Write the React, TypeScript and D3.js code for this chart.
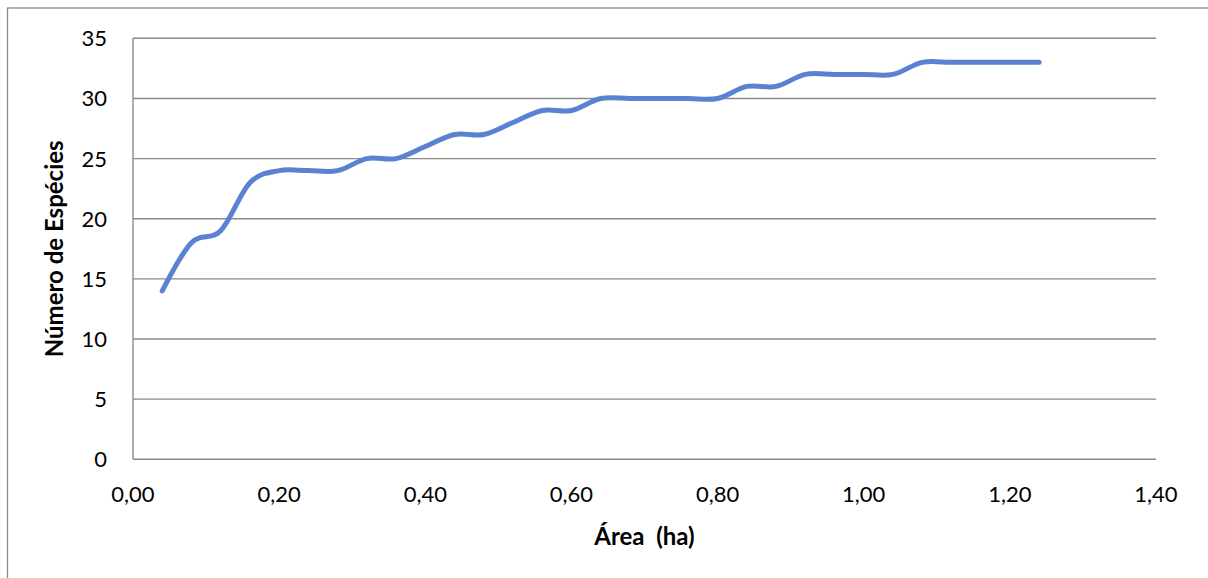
import React from "react";
import * as d3 from "d3";

const areaHa: number[] = [
  0.04, 0.08, 0.12, 0.16, 0.2, 0.24, 0.28, 0.32, 0.36, 0.4, 0.44, 0.48, 0.52, 0.56, 0.6, 0.64,
  0.68, 0.72, 0.76, 0.8, 0.84, 0.88, 0.92, 0.96, 1.0, 1.04, 1.08, 1.12, 1.16, 1.2, 1.24,
];
const especies: number[] = [
  14, 18, 19, 23, 24, 24, 24, 25, 25, 26, 27, 27, 28, 29, 29, 30,
  30, 30, 30, 30, 31, 31, 32, 32, 32, 32, 33, 33, 33, 33, 33,
];
const xTicks: number[] = [0, 0.2, 0.4, 0.6, 0.8, 1.0, 1.2, 1.4];
const yTicks: number[] = [0, 5, 10, 15, 20, 25, 30, 35];
const xTitle = "Área  (ha)";
const yTitle = "Número de Espécies";

const W = 1208;
const H = 578;
const FONT = "Lato, 'Open Sans', sans-serif";
const GRID = "#8a8a8a";
const LINE = "#5b82d2";

export default function App() {
  const x = d3.scaleLinear().domain([0, 1.4]).range([133, 1156]);
  const y = d3.scaleLinear().domain([0, 35]).range([459.3, 38.3]);
  const pts: [number, number][] = areaHa.map((a, i) => [a, especies[i]]);
  const line = d3
    .line<[number, number]>()
    .x((d) => x(d[0]))
    .y((d) => y(d[1]))
    .curve(d3.curveCatmullRom.alpha(0));
  const fmt = (v: number) => v.toFixed(2).replace(".", ",");
  const [x0, x1] = x.range();
  const [y0, y1] = y.range();
  return (
    <svg
      width={W}
      height={H}
      style={{ position: "absolute", left: 0, top: 0, background: "#fff" }}
      fontFamily={FONT}
    >
      <rect x={7.5} y={8} width={W + 10} height={H + 10} fill="#fff" stroke={GRID} strokeWidth={1.3} />
      {yTicks.map((t) => (
        <line key={"g" + t} x1={x0} x2={x1} y1={y(t)} y2={y(t)} stroke={GRID} strokeWidth={1.4} />
      ))}
      <line x1={x0} x2={x0} y1={y1} y2={y0} stroke={GRID} strokeWidth={1.4} />
      {yTicks.map((t) => (
        <text key={"yl" + t} x={107} y={y(t)} dy="0.36em" textAnchor="end" fontSize={22} fill="#000">
          {t}
        </text>
      ))}
      {xTicks.map((t) => (
        <text key={"xl" + t} x={x(t)} y={502} textAnchor="middle" fontSize={22} fill="#000">
          {fmt(t)}
        </text>
      ))}
      <path d={line(pts) || ""} fill="none" stroke={LINE} strokeWidth={5} strokeLinecap="round" strokeLinejoin="round" />
      <text
        x={(x0 + x1) / 2}
        y={545}
        textAnchor="middle"
        fontSize={24}
        fontWeight="bold"
        fill="#000"
        style={{ whiteSpace: "pre" }}
      >
        {xTitle}
      </text>
      <text
        transform={`translate(63,${(y0 + y1) / 2}) rotate(-90)`}
        textAnchor="middle"
        fontSize={24}
        fontWeight="bold"
        fill="#000"
      >
        {yTitle}
      </text>
    </svg>
  );
}
